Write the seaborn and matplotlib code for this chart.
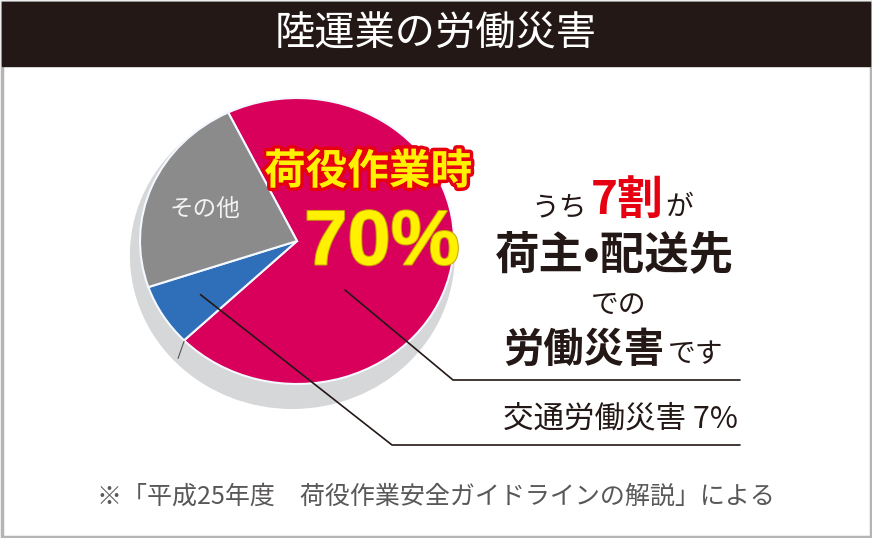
import numpy as np
import matplotlib.pyplot as plt
import matplotlib.patheffects as pe
from matplotlib.patches import Ellipse, Rectangle
import seaborn as sns

sns.set_theme(style="white")
plt.rcParams["font.family"] = ["Noto Sans CJK JP", "DejaVu Sans"]

# data
categories = ["荷役作業時", "交通労働災害", "その他"]
shares = [70, 7, 23]
colors = ["#d8005b", "#2f6fb9", "#8b8b8b"]

title = "陸運業の労働災害"
note = "※「平成25年度　荷役作業安全ガイドラインの解説」による"

W, H = 872, 538
fig = plt.figure(figsize=(W / 100, H / 100), dpi=100)
fig.patch.set_facecolor("white")

# pie axes (ellipse: centre 297,241 px, rx 157, ry 143)
cx, cy, rx, ry = 297, 241, 157, 143
m = 1.3
ax = fig.add_axes([(cx - m * rx) / W, (H - cy - m * ry) / H, 2 * m * rx / W, 2 * m * ry / H])
ax.add_patch(Ellipse((-0.03, -0.1), 2.06, 2.14, color="#d6d7d8", zorder=0))
wedges, _ = ax.pie(shares, colors=colors, startangle=116, counterclock=False,
                   wedgeprops=dict(edgecolor="#f4f8ff", linewidth=1.5))
ax.set_aspect("auto")
ax.set_xlim(-m, m)
ax.set_ylim(-m, m)
ax.axis("off")


def to_px(angle, r=1.0):
    a = np.deg2rad(angle)
    return cx + rx * r * np.cos(a), cy - ry * r * np.sin(a)


# overlay in pixel coords
ov = fig.add_axes([0, 0, 1, 1], facecolor="none")
ov.set_xlim(0, W)
ov.set_ylim(H, 0)
ov.axis("off")

ov.add_patch(Rectangle((1.5, 1.5), W - 3, H - 3, fill=False, edgecolor="#b5b5b5", linewidth=2.5))
ov.add_patch(Rectangle((2, 2), W - 4, 64, color="#231815"))
ov.text(W / 2, 34, title, color="white", fontsize=29, ha="center", va="center")

ov.text(205, 210, categories[2], color="#f2f2f2", fontsize=17, ha="center", va="center")
ov.text(368, 172, categories[0], color="#fff100", fontsize=30, fontweight="bold",
        ha="center", va="center",
        path_effects=[pe.withStroke(linewidth=5, foreground="#e60012")])
ov.text(382, 244, f"{shares[0]}%", color="#fff100", fontsize=56, fontweight="bold",
        family=["Liberation Sans Narrow", "Liberation Sans"], ha="center", va="center",
        path_effects=[pe.withStroke(linewidth=1.5, foreground="#c9a400")])

# leader lines
lc = "#231815"
ov.plot([345, 453, 740], [290, 380, 380], color=lc, lw=1.2)
blue = wedges[1]
bx, by = to_px((blue.theta1 + blue.theta2) / 2, 0.72)
ov.plot([bx, 392, 740], [by, 445, 445], color=lc, lw=1.2)
# edge of the blue slice on the side of the disc
ex, ey = to_px(blue.theta2)
ov.plot([ex, ex - 6], [ey + 1, ey + 18], color="#555555", lw=0.8)

# right block
ov.text(587, 215, "うち", color=lc, fontsize=20, ha="right", va="baseline")
ov.text(591, 215, "7割", color="#e60012", fontsize=33, fontweight="bold", ha="left", va="baseline")
ov.text(665, 215, "が", color=lc, fontsize=20, ha="left", va="baseline")
ov.text(614, 255, "荷主•配送先", color=lc, fontsize=32, fontweight="bold", ha="center", va="center")
ov.text(619, 305, "での", color=lc, fontsize=20, ha="center", va="center")
ov.text(503, 362, "労働災害", color=lc, fontsize=29, fontweight="bold", ha="left", va="baseline")
ov.text(668, 362, "です", color=lc, fontsize=20, ha="left", va="baseline")
ov.text(738, 419, f"{categories[1]} {shares[1]}%", color=lc, fontsize=22, ha="right", va="center")

ov.text(436, 497, note, color="#595757", fontsize=18, ha="center", va="center")

fig.savefig("out.png", dpi=100)
plt.close(fig)
